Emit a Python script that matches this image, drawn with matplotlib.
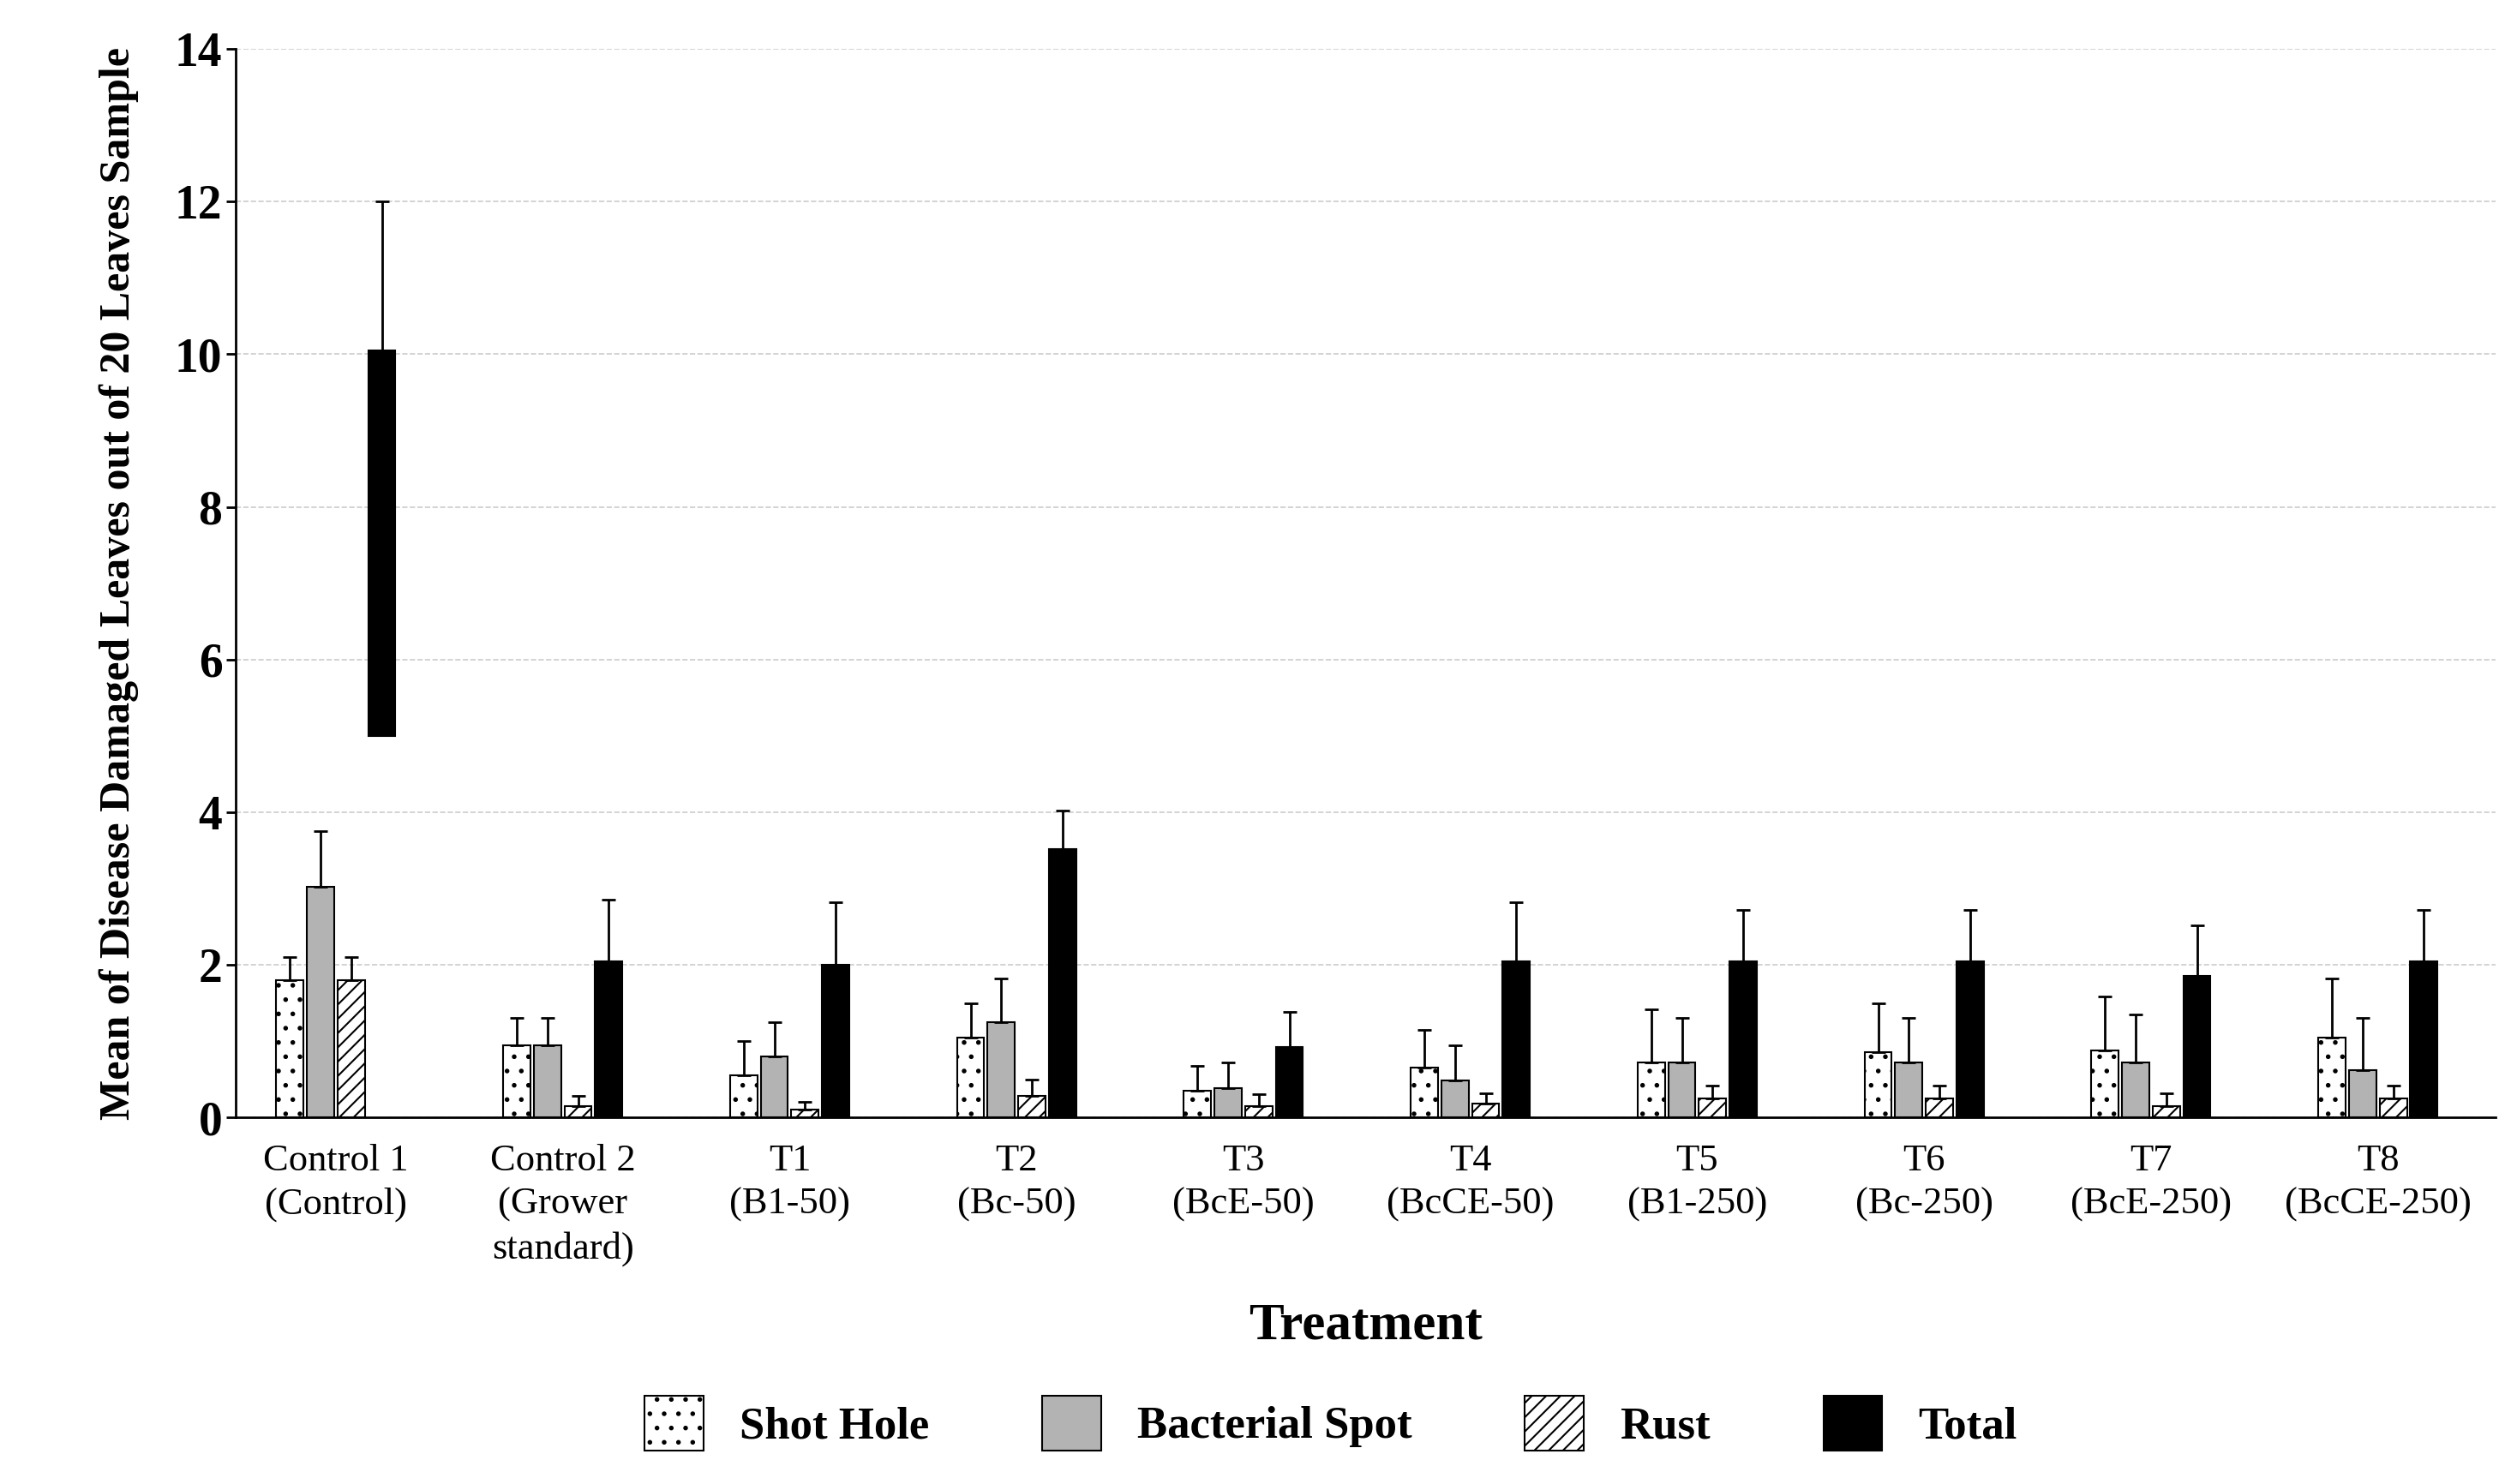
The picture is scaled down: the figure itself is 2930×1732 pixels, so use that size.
import matplotlib
matplotlib.use("Agg")
import matplotlib.pyplot as plt
import numpy as np

categories = ["Control 1\n(Control)", "Control 2\n(Grower\nstandard)", "T1\n(B1-50)", "T2\n(Bc-50)",
              "T3\n(BcE-50)", "T4\n(BcCE-50)", "T5\n(B1-250)", "T6\n(Bc-250)", "T7\n(BcE-250)", "T8\n(BcCE-250)"]
shot_hole = [1.8, 0.95, 0.55, 1.05, 0.35, 0.65, 0.72, 0.85, 0.88, 1.05]
shot_hole_top = [2.1, 1.3, 1.0, 1.5, 0.68, 1.15, 1.42, 1.5, 1.58, 1.82]
bact = [3.02, 0.95, 0.8, 1.25, 0.38, 0.48, 0.72, 0.72, 0.72, 0.62]
bact_top = [3.75, 1.3, 1.25, 1.82, 0.72, 0.95, 1.3, 1.3, 1.35, 1.3]
rust = [1.8, 0.15, 0.1, 0.28, 0.15, 0.18, 0.25, 0.25, 0.15, 0.25]
rust_top = [2.1, 0.28, 0.2, 0.5, 0.3, 0.32, 0.42, 0.42, 0.32, 0.42]
total = [10.05, 2.05, 2.0, 3.52, 0.92, 2.05, 2.05, 2.05, 1.85, 2.05]
total_top = [12.0, 2.85, 2.82, 4.02, 1.38, 2.82, 2.72, 2.72, 2.52, 2.72]
total_bottom = [5.0, 0, 0, 0, 0, 0, 0, 0, 0, 0]

plt.rcParams['font.family'] = ['Liberation Serif', 'DejaVu Serif']
plt.rcParams['hatch.linewidth'] = 1.5
fig = plt.figure(figsize=(29.3, 17.32), dpi=100)
ax = fig.add_axes([0.094, 0.247, 0.9, 0.72])

x = np.arange(len(categories))
w = 0.12
sp = 0.135
series = [
    (shot_hole, shot_hole_top, "white", ".", "Shot Hole", None),
    (bact, bact_top, "#b3b3b3", None, "Bacterial Spot", None),
    (rust, rust_top, "white", "//", "Rust", None),
    (total, total_top, "black", None, "Total", total_bottom),
]
for i, (v, top, c, h, lab, bot) in enumerate(series):
    v = np.array(v); top = np.array(top)
    b = np.zeros_like(v) if bot is None else np.array(bot)
    pos = x + (i - 1.5) * sp
    ax.bar(pos, v - b, w, bottom=b, color=c, hatch=h, edgecolor="black", linewidth=1.5, label=lab, zorder=3)
    ax.errorbar(pos, v, yerr=[np.zeros_like(v), top - v], fmt="none", ecolor="black",
                elinewidth=2, capsize=6, capthick=2, zorder=4)

ax.set_ylim(0, 14)
ax.set_xlim(-0.44, 9.52)
ax.set_yticks(range(0, 15, 2))
ax.tick_params(axis='y', labelsize=40, width=2, length=8)
for t in ax.get_yticklabels():
    t.set_fontweight('bold')
ax.set_xticks(x)
ax.set_xticklabels(categories, fontsize=32, va='top', linespacing=1.35)
ax.tick_params(axis='x', length=0, pad=22)
ax.yaxis.grid(True, linestyle='--', color='#cccccc', linewidth=1.2, zorder=0)
for s in ['top', 'right']:
    ax.spines[s].set_visible(False)
ax.spines['left'].set_linewidth(2)
ax.spines['bottom'].set_linewidth(2)
ax.set_ylabel("Mean of Disease Damaged Leaves out of 20 Leaves Sample", fontsize=36, fontweight='bold', labelpad=30)
ax.set_xlabel("Treatment", fontsize=44, fontweight='bold', labelpad=30)
leg = fig.legend(loc='lower center', bbox_to_anchor=(0.53, -0.005), ncol=4, frameon=False,
                 prop={'size': 38, 'weight': 'bold'}, handlelength=1.3, handleheight=1.5, columnspacing=2.5)
fig.savefig("out.png", dpi=100)
